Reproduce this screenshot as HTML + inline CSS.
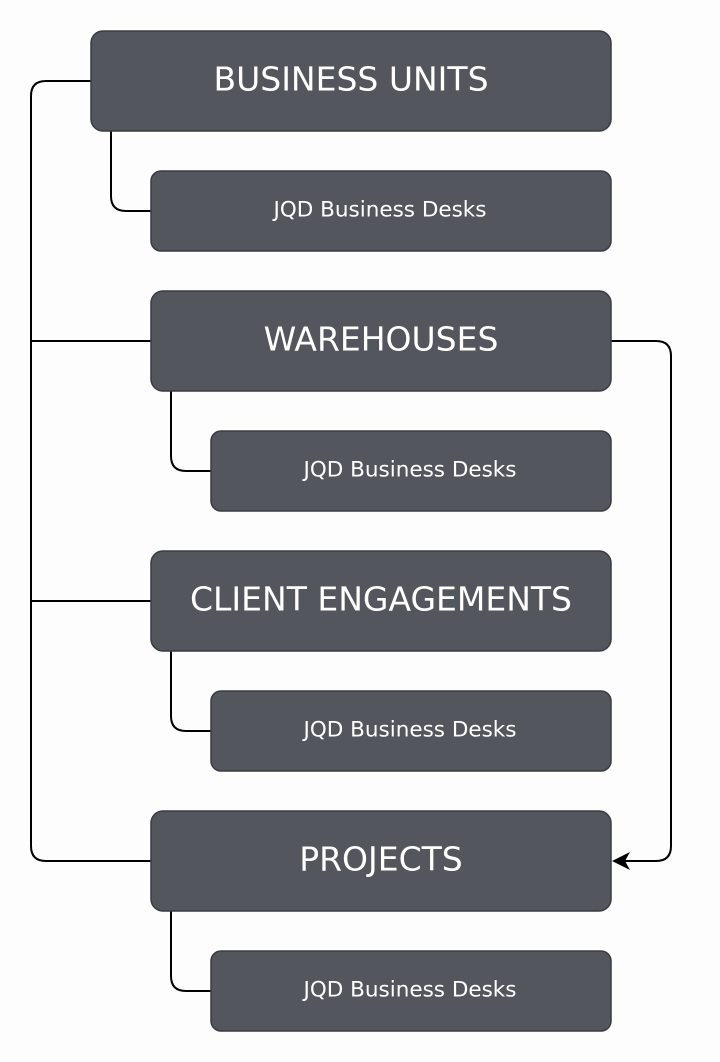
<!DOCTYPE html>
<html><head><meta charset="utf-8"><style>
html,body{margin:0;padding:0;background:#fdfdfd;}
svg{display:block}
text{font-family:"DejaVu Sans","Liberation Sans",sans-serif;fill:#fff;text-anchor:middle;dominant-baseline:central}
</style></head><body>
<svg width="720" height="1062" viewBox="0 0 720 1062" xmlns="http://www.w3.org/2000/svg">
<g fill="none" stroke="#000" stroke-width="2">
<path d="M91 81 H46 Q31 81 31 96 V846 Q31 861 46 861 H151"/>
<path d="M31 341 H151 M31 601 H151"/>
<path d="M111 131 V196 Q111 211 126 211 H151"/>
<path d="M171 391 V456 Q171 471 186 471 H211"/>
<path d="M171 651 V716 Q171 731 186 731 H211"/>
<path d="M171 911 V976 Q171 991 186 991 H211"/>
<path d="M611 341 H656 Q671 341 671 356 V846 Q671 861 656 861 H616"/>
</g>
<path d="M612 861 L630 852 L625 861 L630 870 Z" fill="#000"/>
<g fill="#53565c" stroke="#3a3c40" stroke-width="1.5">
<rect x="91" y="31" width="520" height="100" rx="12"/>
<rect x="151" y="171" width="460" height="80" rx="10"/>
<rect x="151" y="291" width="460" height="100" rx="12"/>
<rect x="211" y="431" width="400" height="80" rx="10"/>
<rect x="151" y="551" width="460" height="100" rx="12"/>
<rect x="211" y="691" width="400" height="80" rx="10"/>
<rect x="151" y="811" width="460" height="100" rx="12"/>
<rect x="211" y="951" width="400" height="80" rx="10"/>
</g>
<g font-size="33">
<text x="351" y="79">BUSINESS UNITS</text>
<text x="381" y="339">WAREHOUSES</text>
<text x="381" y="599">CLIENT ENGAGEMENTS</text>
<text x="381" y="859">PROJECTS</text>
</g>
<g font-size="21.5">
<text x="380" y="210">JQD Business Desks</text>
<text x="410" y="470">JQD Business Desks</text>
<text x="410" y="730">JQD Business Desks</text>
<text x="410" y="990">JQD Business Desks</text>
</g>
</svg>
</body></html>
